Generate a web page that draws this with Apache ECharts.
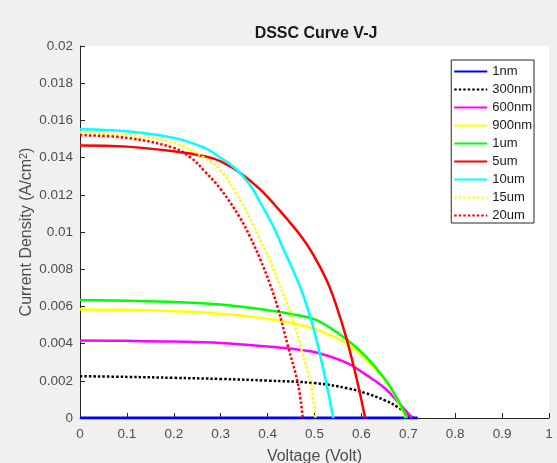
<!DOCTYPE html>
<html>
<head>
<meta charset="utf-8">
<script src="https://cdn.jsdelivr.net/npm/echarts@6/dist/echarts.min.js"></script>
<style>
html,body{margin:0;padding:0;background:#f0f0f0;}
#chart{width:557px;height:463px;}
</style>
</head>
<body>
<div id="chart"></div>
<script>
// Tick settings
var xTicks = [0, 0.1, 0.2, 0.3, 0.4, 0.5, 0.6, 0.7, 0.8, 0.9, 1];
var yTicks = [0, 0.002, 0.004, 0.006, 0.008, 0.01, 0.012, 0.014, 0.016, 0.018, 0.02];

// Series names (legend order)
var seriesNames = ['1nm', '300nm', '600nm', '900nm', '1um', '5um', '10um', '15um', '20um'];

// 1nm
var v1nm = [0, 0.72];
var j1nm = [0, 0];
// 300nm
var v300nm = [0, 0.1, 0.2, 0.3, 0.4, 0.5, 0.57, 0.61, 0.65, 0.68, 0.71];
var j300nm = [0.00225, 0.00221, 0.00216, 0.0021, 0.00201, 0.00188, 0.0016, 0.00133, 0.00095, 0.00055, 0];
// 600nm
var v600nm = [0, 0.1, 0.2, 0.3, 0.4, 0.47, 0.51, 0.57, 0.61, 0.65, 0.68, 0.708];
var j600nm = [0.00417, 0.00415, 0.00411, 0.00403, 0.00384, 0.00366, 0.00348, 0.00295, 0.00232, 0.0016, 0.0008, 0];
// 900nm
var v900nm = [0, 0.1, 0.2, 0.3, 0.4, 0.47, 0.51, 0.57, 0.61, 0.65, 0.675, 0.695];
var j900nm = [0.00584, 0.00582, 0.00574, 0.0056, 0.00533, 0.005, 0.0047, 0.00398, 0.00313, 0.00205, 0.00105, 0];
// 1um
var v1um = [0, 0.1, 0.2, 0.3, 0.4, 0.47, 0.51, 0.57, 0.61, 0.65, 0.675, 0.698];
var j1um = [0.00634, 0.0063, 0.00624, 0.0061, 0.0058, 0.0055, 0.0052, 0.0042, 0.0033, 0.0021, 0.0011, 0];
// 5um
var v5um = [0, 0.1, 0.2, 0.266, 0.3, 0.341, 0.384, 0.426, 0.469, 0.497, 0.526, 0.547, 0.569, 0.59, 0.608];
var j5um = [0.01465, 0.01459, 0.01434, 0.01407, 0.0138, 0.01319, 0.01229, 0.01115, 0.00985, 0.0088, 0.0074, 0.006, 0.0042, 0.0021, 0];
// 10um
var v10um = [0, 0.1, 0.2, 0.266, 0.3, 0.33, 0.362, 0.384, 0.412, 0.434, 0.455, 0.476, 0.497, 0.519, 0.54];
var j10um = [0.01553, 0.01542, 0.01506, 0.01452, 0.01398, 0.01344, 0.01255, 0.0116, 0.01031, 0.00906, 0.0079, 0.0066, 0.0049, 0.0026, 0];
// 15um
var v15um = [0, 0.1, 0.2, 0.266, 0.3, 0.341, 0.362, 0.384, 0.405, 0.426, 0.451, 0.472, 0.493, 0.502];
var j15um = [0.01536, 0.0152, 0.01479, 0.01398, 0.0133, 0.01175, 0.01075, 0.0096, 0.00845, 0.00715, 0.0055, 0.0037, 0.0017, 0];
// 20um
var v20um = [0, 0.1, 0.2, 0.237, 0.266, 0.3, 0.341, 0.362, 0.384, 0.405, 0.422, 0.443, 0.465, 0.475];
var j20um = [0.0152, 0.01506, 0.01452, 0.01398, 0.01326, 0.0123, 0.01077, 0.00977, 0.00855, 0.0072, 0.0059, 0.0039, 0.0018, 0];

function pairs(v, j) { return v.map(function (x, i) { return [x, j[i]]; }); }

var seriesData = [
  pairs(v1nm, j1nm), pairs(v300nm, j300nm), pairs(v600nm, j600nm),
  pairs(v900nm, j900nm), pairs(v1um, j1um), pairs(v5um, j5um),
  pairs(v10um, j10um), pairs(v15um, j15um), pairs(v20um, j20um)
];
var styles = [
  {color: '#0000ff', type: 'solid', width: 3},
  {color: '#000000', type: [2.5, 2], width: 2.5},
  {color: '#ff00ff', type: 'solid', width: 2.5},
  {color: '#ffff00', type: 'solid', width: 2.5},
  {color: '#00ff00', type: 'solid', width: 2.5},
  {color: '#ff0000', type: 'solid', width: 2.5},
  {color: '#00ffff', type: 'solid', width: 2.5},
  {color: '#ffff00', type: [2.5, 2], width: 2.5},
  {color: '#ff0000', type: [2.5, 2], width: 2.5}
];

var chart = echarts.init(document.getElementById('chart'), null, {renderer: 'canvas'});
var axisColor = '#262626';
var labelColor = '#4d4d4d';
var font = 'Liberation Sans, Arial, sans-serif';

chart.setOption({
  backgroundColor: '#f0f0f0',
  animation: false,
  title: {
    text: 'DSSC Curve V-J',
    left: 311, top: 21, textAlign: 'center',
    textStyle: {fontSize: 16, fontWeight: 'bold', color: '#1a1a1a', fontFamily: font}
  },
  legend: {
    orient: 'vertical',
    right: 23, top: 60,
    backgroundColor: '#ffffff',
    borderColor: axisColor, borderWidth: 1,
    padding: [5, 2, 1, 2],
    itemWidth: 33, itemHeight: 14, itemGap: 5,
    itemStyle: {opacity: 0},
    textStyle: {fontSize: 13, color: '#1a1a1a', fontFamily: font},
    data: seriesNames
  },
  grid: {
    left: 80, right: 8, top: 46, bottom: 45,
    outerBoundsMode: 'none', containLabel: false,
    show: true, backgroundColor: '#ffffff', borderWidth: 0
  },
  xAxis: {
    type: 'value', min: xTicks[0], max: xTicks[xTicks.length - 1], interval: 0.1,
    name: 'Voltage (Volt)', nameLocation: 'middle', nameGap: 31,
    nameTextStyle: {fontSize: 16, color: labelColor, fontFamily: font},
    axisLine: {show: true, lineStyle: {color: axisColor, width: 1}},
    axisTick: {show: true, inside: true, length: 5, lineStyle: {color: axisColor}},
    axisLabel: {fontSize: 13.5, color: labelColor, margin: 9, fontFamily: font},
    splitLine: {show: false}
  },
  yAxis: {
    type: 'value', min: yTicks[0], max: yTicks[yTicks.length - 1], interval: 0.002,
    name: 'Current Density (A/cm{sup|2})', nameLocation: 'middle', nameGap: 44,
    nameMoveOverlap: false,
    nameTextStyle: {
      fontSize: 16, color: labelColor, fontFamily: font,
      rich: {sup: {fontSize: 11, color: labelColor, fontFamily: font, verticalAlign: 'top', padding: [0, 0, 7, 0]}}
    },
    axisLine: {show: true, lineStyle: {color: axisColor, width: 1}},
    axisTick: {show: true, inside: true, length: 5, lineStyle: {color: axisColor}},
    axisLabel: {fontSize: 13.5, color: labelColor, margin: 7, fontFamily: font},
    splitLine: {show: false}
  },
  series: seriesNames.map(function (name, i) {
    return {
      name: name, type: 'line', data: seriesData[i],
      smooth: 0.4,
      showSymbol: false, symbol: 'none',
      color: styles[i].color,
      lineStyle: {color: styles[i].color, width: styles[i].width, type: styles[i].type},
      z: 2 + i
    };
  })
});
</script>
</body>
</html>
